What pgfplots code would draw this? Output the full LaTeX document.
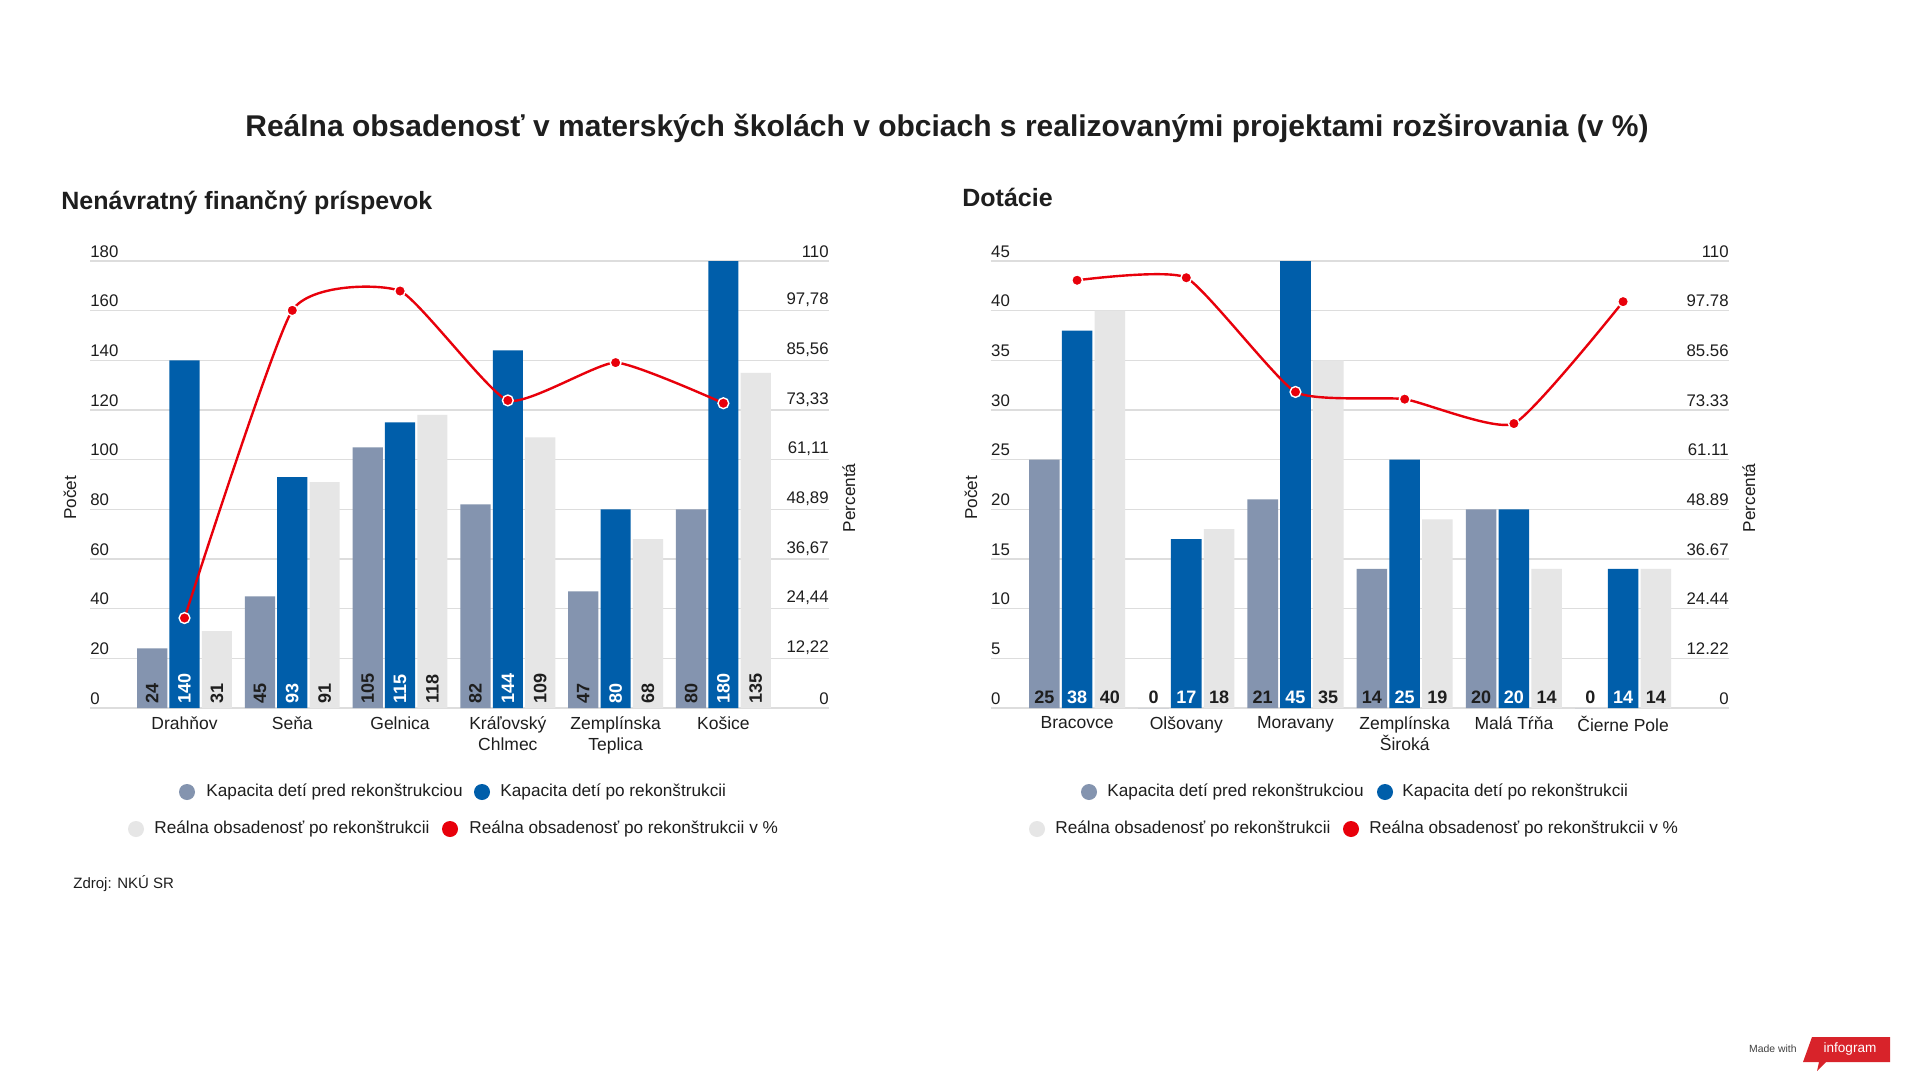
\documentclass[border=0pt]{standalone}
\usepackage{fontspec}
\setmainfont{Liberation Sans}
\usepackage{pgfplots}
\usepackage{pgfplotstable}
\pgfplotsset{compat=1.18}
\definecolor{cgray}{HTML}{8494AF}
\definecolor{cblue}{HTML}{005EAA}
\definecolor{clight}{HTML}{E6E6E6}
\definecolor{cred}{HTML}{E8000B}
\definecolor{gridc}{HTML}{DDDDDD}
\definecolor{txt}{HTML}{1E1E1E}
\definecolor{ired}{HTML}{D8232A}
\newcommand\fs[1]{\fontsize{#1pt}{#1pt}\selectfont}

\pgfplotstableread{
x pred po real pct
0 24 140 31 22.14
1 45 93 91 97.85
2 105 115 118 102.61
3 82 144 109 75.69
4 47 80 68 85.00
5 80 180 135 75.00
}\leftdata
\pgfplotstableread{
x pred po real pct
0 25 38 40 105.26
1 0 17 18 105.88
2 21 45 35 77.78
3 14 25 19 76.00
4 20 20 14 70.00
5 0 14 14 100.00
}\rightdata

\pgfplotsset{
  base/.style={
    scale only axis, height=223.5pt, anchor=south west,
    enlargelimits=false, clip=false,
    axis line style={draw=none}, major tick length=0pt,
    /pgf/number format/assume math mode=true,
    ymin=0, xmin=#1,
    ticklabel style={font=\fs{8.4}, text=txt},
    yticklabel style={inner sep=0pt, yshift=1.7pt},
  },
  cnt/.style={ymajorgrids, grid style={draw=gridc, line width=0.6pt},
    xtick={0,...,5},
    xticklabel style={align=center, font=\fontsize{8.75pt}{10.5pt}\selectfont, text=txt, inner sep=0pt, yshift=-4pt},
    yticklabel style={anchor=south west},
    ylabel=Počet, ylabel style={font=\fs{8.6}, text=txt, anchor=center, at={(axis description cs:-0.027,0.47)}},
  },
  pctax/.style={xtick=\empty, ymax=110, yticklabel pos=right,
    ytick={0,12.2222,24.4444,36.6667,48.8889,61.1111,73.3333,85.5556,97.7778,110},
    yticklabel style={anchor=south east},
    ylabel=Percentá, ylabel style={font=\fs{8.6}, text=txt, anchor=center, at={(axis description cs:1.027,0.47)}},
  },
  barA/.style={ybar, bar width=0.28, bar shift=-0.3, fill=cgray, draw=none},
  barB/.style={ybar, bar width=0.28, bar shift=0, fill=cblue, draw=none},
  barC/.style={ybar, bar width=0.28, bar shift=0.3, fill=clight, draw=none},
  lab/.style={draw=none, mark=none, point meta=explicit, nodes near coords,
    every node near coord/.append style={font=\bfseries\fs{9}, text=#1}},
  rotL/.style={every node near coord/.append style={rotate=90, anchor=west, inner xsep=2pt, inner ysep=0pt}},
  horR/.style={every node near coord/.append style={anchor=south, inner ysep=2pt, inner xsep=0pt}},
  pline/.style={smooth, tension=0.3, color=cred, line width=1.2pt, mark=*, mark size=2.7pt,
    mark options={fill=cred, draw=white, line width=0.7pt}},
}

\newcommand\legitem[5]{%
  \fill[#4] (#1,#3) circle (4pt);
  \node[anchor=west, inner sep=0pt, font=\fs{8.6}, text=txt] at (#2,#3) {#5};}

\begin{document}
\begin{tikzpicture}[x=0.5pt,y=-0.5pt]
\fill[white] (0,0) rectangle (1920,1080);

\node[font=\bfseries\fs{15}, text=txt] at (947,128) {Reálna obsadenosť v materských školách v obciach s realizovanými projektami rozširovania (v \%)};
\node[font=\bfseries\fs{12.5}, text=txt, anchor=west, inner sep=0pt] at (61,203) {Nenávratný finančný príspevok};
\node[font=\bfseries\fs{12.5}, text=txt, anchor=west, inner sep=0pt] at (962,197) {Dotácie};

% ---------- left chart ----------
\begin{axis}[base=-0.877, cnt, at={(45pt,-354pt)}, width=369.5pt, xmax=5.98,
  ymax=180, ytick={0,20,...,180},
  xticklabels={Drahňov, Seňa, Gelnica, {Kráľovský\\Chlmec}, {Zemplínska\\Teplica}, Košice}]
\addplot[barA] table[x=x, y=pred] {\leftdata};
\addplot[barB] table[x=x, y=po] {\leftdata};
\addplot[barC] table[x=x, y=real] {\leftdata};
\addplot[lab=txt, rotL] table[x expr=\thisrow{x}-0.3, y expr=0, meta=pred] {\leftdata};
\addplot[lab=white, rotL] table[x expr=\thisrow{x}, y expr=0, meta=po] {\leftdata};
\addplot[lab=txt, rotL] table[x expr=\thisrow{x}+0.3, y expr=0, meta=real] {\leftdata};
\end{axis}
\begin{axis}[base=-0.877, pctax, at={(45pt,-354pt)}, width=369.5pt, xmax=5.98,
  yticklabels={0,{12,22},{24,44},{36,67},{48,89},{61,11},{73,33},{85,56},{97,78},110}]
\addplot[pline] table[x=x, y=pct] {\leftdata};
\end{axis}

% ---------- right chart ----------
\begin{axis}[base=-0.79, cnt, at={(495.4pt,-354pt)}, width=369.1pt, xmax=5.97,
  ymax=45, ytick={0,5,...,45},
  xticklabels={Bracovce, Olšovany, Moravany, {Zemplínska\\Široká}, Malá Tŕňa, Čierne Pole}]
\addplot[barA] table[x=x, y=pred] {\rightdata};
\addplot[barB] table[x=x, y=po] {\rightdata};
\addplot[barC] table[x=x, y=real] {\rightdata};
\addplot[lab=txt, horR] table[x expr=\thisrow{x}-0.3, y expr=0, meta=pred] {\rightdata};
\addplot[lab=white, horR] table[x expr=\thisrow{x}, y expr=0, meta=po] {\rightdata};
\addplot[lab=txt, horR] table[x expr=\thisrow{x}+0.3, y expr=0, meta=real] {\rightdata};
\end{axis}
\begin{axis}[base=-0.79, pctax, at={(495.4pt,-354pt)}, width=369.1pt, xmax=5.97,
  yticklabels={0,12.22,24.44,36.67,48.89,61.11,73.33,85.56,97.78,110}]
\addplot[pline] table[x=x, y=pct] {\rightdata};
\end{axis}

% ---------- legends ----------
\legitem{187}{206}{792}{cgray}{Kapacita detí pred rekonštrukciou}
\legitem{482}{500}{792}{cblue}{Kapacita detí po rekonštrukcii}
\legitem{136}{154}{829}{clight}{Reálna obsadenosť po rekonštrukcii}
\legitem{450}{469}{829}{cred}{Reálna obsadenosť po rekonštrukcii v \%}

\legitem{1089}{1107}{792}{cgray}{Kapacita detí pred rekonštrukciou}
\legitem{1385}{1402}{792}{cblue}{Kapacita detí po rekonštrukcii}
\legitem{1037}{1055}{829}{clight}{Reálna obsadenosť po rekonštrukcii}
\legitem{1351}{1369}{829}{cred}{Reálna obsadenosť po rekonštrukcii v \%}

\node[anchor=west, inner sep=0pt, font=\fs{7.5}, text=txt] at (73,884) {Zdroj: NKÚ SR};

% ---------- badge ----------
\node[anchor=east, inner sep=0pt, font=\fs{5.2}, text=txt!85] at (1797,1049) {Made with};
\fill[ired] (1812,1037) -- (1890,1037) -- (1890,1062) -- (1826,1062) -- (1817,1071) -- (1819,1062) -- (1803,1062) -- cycle;
\node[inner sep=0pt, font=\fs{6.8}, text=white] at (1850,1049) {infogram};
\end{tikzpicture}
\end{document}
